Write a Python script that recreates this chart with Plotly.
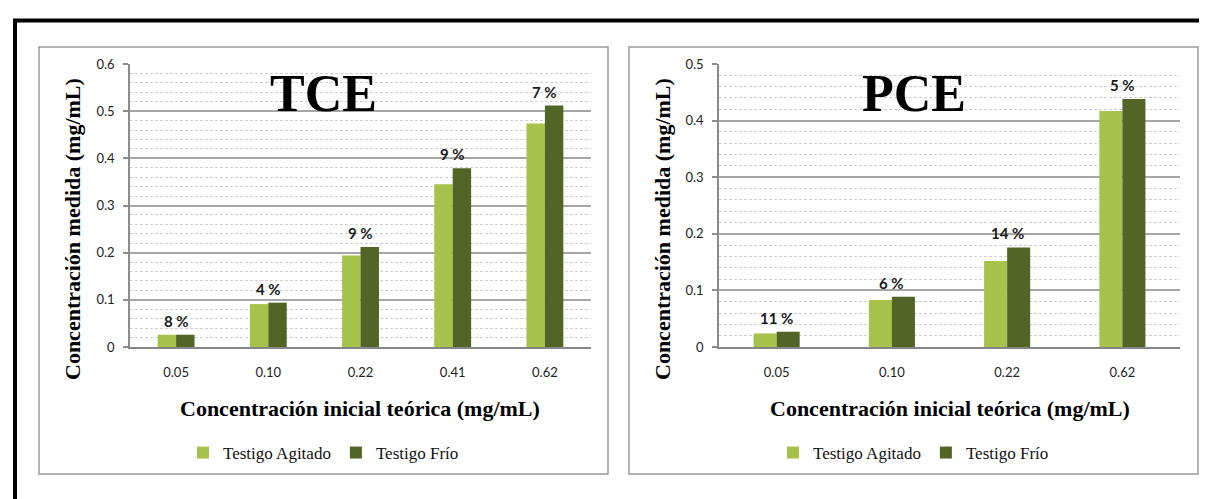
import plotly.graph_objects as go

# ---------------- data ----------------
tce_categories = ["0.05", "0.10", "0.22", "0.41", "0.62"]
tce_agitado = [0.026, 0.091, 0.194, 0.345, 0.474]
tce_frio = [0.026, 0.094, 0.212, 0.379, 0.512]
tce_pct = ["8 %", "4 %", "9 %", "9 %", "7 %"]

pce_categories = ["0.05", "0.10", "0.22", "0.62"]
pce_agitado = [0.024, 0.083, 0.152, 0.417]
pce_frio = [0.027, 0.089, 0.176, 0.438]
pce_pct = ["11 %", "6 %", "14 %", "5 %"]

series_names = ["Testigo Agitado", "Testigo Frío"]
chart_titles = ["TCE", "PCE"]
y_title = "Concentración medida (mg/mL)"
x_title = "Concentración inicial teórica (mg/mL)"

# ---------------- styling ----------------
W, H = 1207, 499
C_LIGHT = "#A6C24B"
C_DARK = "#526526"
SERIF = "Liberation Serif"
SANS = "Lato"


def px(x):
    return x / W


def py(y):
    return 1 - y / H


fig = go.Figure()

panels = [
    dict(cats=tce_categories, a=tce_agitado, f=tce_frio, pct=tce_pct, xa="x", ya="y",
         legend="legend", title=chart_titles[0]),
    dict(cats=pce_categories, a=pce_agitado, f=pce_frio, pct=pce_pct, xa="x2", ya="y2",
         legend="legend2", title=chart_titles[1]),
]

for p in panels:
    fig.add_trace(go.Bar(x=p["cats"], y=p["a"], name=series_names[0], marker_color=C_LIGHT,
                         marker_line_width=0, xaxis=p["xa"], yaxis=p["ya"], legend=p["legend"]))
    fig.add_trace(go.Bar(x=p["cats"], y=p["f"], name=series_names[1], marker_color=C_DARK,
                         marker_line_width=0, xaxis=p["xa"], yaxis=p["ya"], legend=p["legend"]))
    # percent labels above each pair (category index positions on the category axis)
    for i, (a, f, t) in enumerate(zip(p["a"], p["f"], p["pct"])):
        fig.add_annotation(x=i, y=max(a, f), xref=p["xa"], yref=p["ya"], text=f"<b>{t}</b>",
                           showarrow=False, yanchor="middle", yshift=14,
                           font=dict(family=SANS, size=15, color="#1a1a1a"))

# plot areas (px)
y_top, y_bot = 56, 339
left_dom = [px(122), px(583)]
right_dom = [px(711), px(1172)]
ydom = [py(y_bot), py(y_top)]


def xaxis_cfg(dom, anchor):
    return dict(domain=dom, anchor=anchor, type="category", showgrid=False, zeroline=False,
                showline=True, linecolor="#868686", linewidth=2, ticks="",
                ticklabelstandoff=12, tickfont=dict(family=SANS, size=13, color="#222"),
                automargin=False, fixedrange=True)


def yaxis_cfg(rng, anchor):
    return dict(domain=ydom, anchor=anchor, range=rng, dtick=0.1, showgrid=True,
                gridcolor="#a6a6a6", gridwidth=1.5, zeroline=False, showline=True,
                linecolor="#8c8c8c", linewidth=1.5, ticks="outside", ticklen=5,
                tickcolor="#8c8c8c", tickwidth=1.5, ticklabelstandoff=6,
                tickfont=dict(family=SANS, size=13, color="#222"),
                minor=dict(dtick=0.02, showgrid=True, gridcolor="#cfcfcf", gridwidth=1,
                           griddash="3px,2px", ticks=""),
                automargin=False, fixedrange=True)


fig.update_layout(
    width=W, height=H,
    margin=dict(l=0, r=0, t=0, b=0),
    paper_bgcolor="white", plot_bgcolor="white",
    barmode="group", bargap=0.6, bargroupgap=0,
    xaxis=xaxis_cfg(left_dom, "y"),
    yaxis=yaxis_cfg([0, 0.6], "x"),
    xaxis2=xaxis_cfg(right_dom, "y2"),
    yaxis2=yaxis_cfg([0, 0.5], "x2"),
    legend=dict(orientation="h", x=px(315.5), xanchor="center", y=py(445), yanchor="middle",
                font=dict(family=SERIF, size=17, color="#111"), itemwidth=30,
                bgcolor="rgba(0,0,0,0)", traceorder="normal"),
    legend2=dict(orientation="h", x=px(905.5), xanchor="center", y=py(445), yanchor="middle",
                 font=dict(family=SERIF, size=17, color="#111"), itemwidth=30,
                 bgcolor="rgba(0,0,0,0)", traceorder="normal"),
    showlegend=True,
)

# panel boxes and outer frame
shapes = [
    dict(type="rect", xref="paper", yref="paper", x0=px(31), x1=px(600), y0=py(466), y1=py(39),
         line=dict(color="#9a9a9a", width=1.5), layer="below"),
    dict(type="rect", xref="paper", yref="paper", x0=px(621), x1=px(1190), y0=py(466), y1=py(39),
         line=dict(color="#9a9a9a", width=1.5), layer="below"),
    dict(type="rect", xref="paper", yref="paper", x0=px(7), x1=px(1230), y0=py(530), y1=py(12.5),
         line=dict(color="black", width=4), layer="below"),
]
fig.update_layout(shapes=shapes)

# titles
for cx, title in [(316, chart_titles[0]), (906, chart_titles[1])]:
    fig.add_annotation(x=px(cx), y=py(85), xref="paper", yref="paper", text=f"<b>{title}</b>",
                       showarrow=False, xanchor="center", yanchor="middle",
                       font=dict(family=SERIF, size=52, color="black"))

for cx in [64, 654]:
    fig.add_annotation(x=px(cx), y=py(221), xref="paper", yref="paper", text=f"<b>{y_title}</b>",
                       showarrow=False, textangle=-90, xanchor="center", yanchor="middle",
                       font=dict(family=SERIF, size=22, color="black"))

for cx in [352.5, 941.5]:
    fig.add_annotation(x=px(cx), y=py(400), xref="paper", yref="paper", text=f"<b>{x_title}</b>",
                       showarrow=False, xanchor="center", yanchor="middle",
                       font=dict(family=SERIF, size=22, color="black"))

fig.write_html("out.html")
